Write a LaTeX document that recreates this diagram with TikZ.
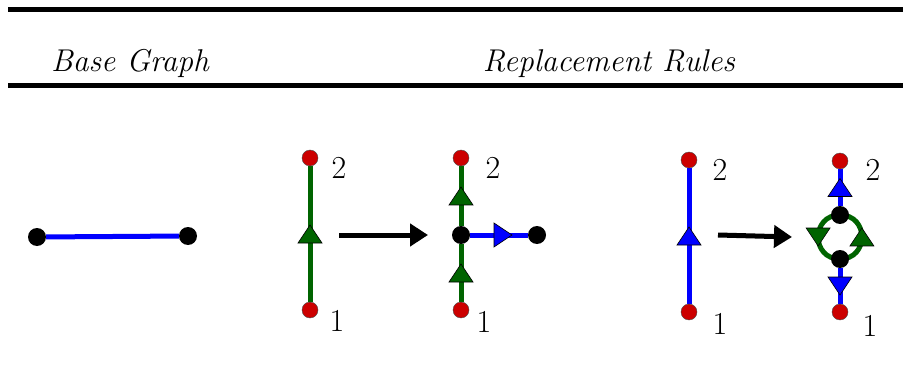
\documentclass[tikz,border=0pt]{standalone}
\usetikzlibrary{arrows.meta,decorations.markings,backgrounds}
\definecolor{dkgreen}{RGB}{0,100,0}
\definecolor{dotred}{RGB}{204,0,0}
\definecolor{eblue}{RGB}{0,0,255}
\tikzset{
  reddot/.style={circle, fill=dotred, draw=black!70, line width=0.4pt, minimum size=16pt, inner sep=0pt},
  blackdot/.style={circle, fill=black, minimum size=18pt, inner sep=0pt},
  gedge/.style={draw=dkgreen, line width=5pt},
  bedge/.style={draw=eblue, line width=5pt},
  midtri/.style 2 args={postaction={decorate}, decoration={markings,
      mark=at position #2 with {\filldraw[fill=#1, draw=black, line width=0.6pt]
        (-9pt,-12pt) -- (9pt,0pt) -- (-9pt,12pt) -- cycle;}}},
  bigarrow/.style={draw=black, line width=5pt, -{Triangle[length=18pt,width=22pt]}},
  hdr/.style={font=\fontsize{31.5}{38}\selectfont\itshape, anchor=base, inner sep=0pt},
  lbl/.style={font=\fontsize{32}{38}\selectfont, inner sep=0pt},
  rulebar/.style={draw=black, line width=5pt}
}
\begin{document}
\begin{tikzpicture}[x=1pt, y=-1pt]
\useasboundingbox (0,0) rectangle (903,385);
% rules
\coordinate (t1) at (8,10); \coordinate (t2) at (903,10);
\coordinate (u1) at (8,86); \coordinate (u2) at (903,86);
\draw[rulebar] (t1) -- (t2);
\draw[rulebar] (u1) -- (u2);
\node[hdr] (hbase) at (130,72) {Base Graph};
\node[hdr] (hrep) at (609,72) {Replacement Rules};
% base graph
\node[blackdot] (b1) at (37,237) {};
\node[blackdot] (b2) at (188,236) {};
% rule 1 left
\node[reddot] (r1t) at (310,158) {};
\node[reddot] (r1b) at (310,310) {};
\node[lbl] (l1t) at (339,168) {2};
\node[lbl] (l1b) at (337,321) {1};
\coordinate (a1s) at (339,235); \coordinate (a1e) at (428,235);
% rule 1 right
\node[reddot] (m1t) at (461,158) {};
\node[reddot] (m1b) at (461,310) {};
\node[blackdot] (m1c) at (461,235) {};
\node[blackdot] (m1r) at (537,235) {};
\node[lbl] (lm1t) at (493,168) {2};
\node[lbl] (lm1b) at (484,322) {1};
% rule 2 left
\node[reddot] (r2t) at (689,160) {};
\node[reddot] (r2b) at (689,312) {};
\node[lbl] (l2t) at (720,170) {2};
\node[lbl] (l2b) at (720,324) {1};
\coordinate (a2s) at (718,235); \coordinate (a2e) at (792,237);
% rule 2 right
\node[reddot] (n2t) at (840,161) {};
\node[reddot] (n2b) at (840,312) {};
\node[blackdot] (n2u) at (840,215) {};
\node[blackdot] (n2d) at (840,259) {};
\node[lbl] (ln2t) at (873,170) {2};
\node[lbl] (ln2b) at (870,326) {1};
\begin{scope}[on background layer]
\draw[bedge] (b1) -- (b2);
\draw[gedge, midtri={dkgreen}{0.5}] (r1b) -- (r1t);
\draw[gedge, midtri={dkgreen}{0.5}] (m1b) -- (m1c);
\draw[gedge, midtri={dkgreen}{0.5}] (m1c) -- (m1t);
\draw[bedge, midtri={eblue}{0.57}] (m1c) -- (m1r);
\draw[bedge, midtri={eblue}{0.5}] (r2b) -- (r2t);
\draw[bedge, midtri={eblue}{0.5}] (n2u) -- (n2t);
\draw[bedge, midtri={eblue}{0.5}] (n2d) -- (n2b);
\draw[gedge, midtri={dkgreen}{0.5}] (n2d.center) to[out=0, in=0, looseness=1.7] (n2u.center);
\draw[gedge, midtri={dkgreen}{0.5}] (n2u.center) to[out=180, in=180, looseness=1.7] (n2d.center);
\end{scope}
\draw[bigarrow] (a1s) -- (a1e);
\draw[bigarrow] (a2s) -- (a2e);
\end{tikzpicture}
\end{document}
